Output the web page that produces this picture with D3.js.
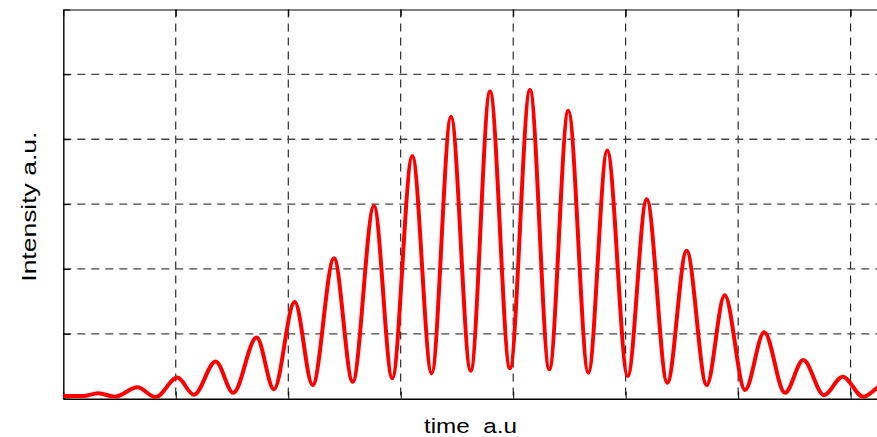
<!DOCTYPE html>
<html>
<head>
<meta charset="utf-8">
<script src="https://cdn.jsdelivr.net/npm/d3@7"></script>
<style>
  html, body { margin: 0; padding: 0; background: #fff; }
  svg { display: block; }
</style>
</head>
<body>
<div id="chart"></div>
<script>
// Interference fringe trace: sample times (a.u.) at the turning points of the signal
const times = [
  0.000, 0.175, 0.311, 0.460, 0.658, 0.821, 1.014, 1.162, 1.355, 1.511,
  1.719, 1.873, 2.057, 2.217, 2.407, 2.573, 2.762, 2.925, 3.103, 3.275,
  3.447, 3.622, 3.794, 3.971, 4.149, 4.321, 4.490, 4.668, 4.836, 5.018,
  5.187, 5.370, 5.542, 5.720, 5.880, 6.061, 6.232, 6.416, 6.579, 6.763,
  6.929, 7.112, 7.290, 7.460
];
// Measured intensity (a.u.) at each sample time
const intensity = [
  0.008, 0.008, 0.017, 0.006, 0.035, 0.005, 0.065, 0.012, 0.115, 0.018,
  0.189, 0.029, 0.299, 0.042, 0.433, 0.052, 0.594, 0.063, 0.748, 0.078,
  0.869, 0.086, 0.947, 0.094, 0.952, 0.091, 0.888, 0.080, 0.765, 0.070,
  0.615, 0.049, 0.456, 0.042, 0.319, 0.027, 0.205, 0.018, 0.119, 0.011,
  0.068, 0.006, 0.042, 0.004
];
// Grid positions (no numeric tick labels are printed on this plot)
const xTicks = [0, 1, 2, 3, 4, 5, 6, 7, 8];
const yTicks = [0, 0.2, 0.4, 0.6, 0.8, 1.0, 1.2];
const xLabel = "time  a.u";
const yLabel = "Intensity a.u.";

const W = 877, H = 437;
const margin = { left: 63.3, top: 9.5 };
const plotW = 899.8, plotH = 389.2;

const svg = d3.select("#chart").append("svg")
  .attr("width", W).attr("height", H);

const x = d3.scaleLinear().domain([0, 8]).range([margin.left, margin.left + plotW]);
const y = d3.scaleLinear().domain([0, 1.2]).range([margin.top + plotH, margin.top]);

svg.append("defs").append("clipPath").attr("id", "plot-clip")
  .append("rect")
  .attr("x", margin.left).attr("y", margin.top - 2)
  .attr("width", plotW).attr("height", plotH + 2);

// Dashed grid
const grid = svg.append("g").attr("stroke", "#000").attr("stroke-width", 1)
  .attr("stroke-dasharray", "8,6").attr("fill", "none");
grid.selectAll("line.v").data(xTicks.filter(d => d > 0 && d < 8)).join("line")
  .attr("class", "v")
  .attr("x1", d => x(d)).attr("x2", d => x(d))
  .attr("y1", margin.top).attr("y2", margin.top + plotH);
grid.selectAll("line.h").data(yTicks.filter(d => d > 0 && d < 1.2)).join("line")
  .attr("class", "h")
  .attr("stroke", "#444")
  .attr("stroke-width", 1.3)
  .attr("x1", margin.left).attr("x2", margin.left + plotW)
  .attr("y1", d => y(d)).attr("y2", d => y(d));

// Frame axes with short inward ticks and no labels
const axisStyle = g => {
  g.selectAll("text").remove();
  g.selectAll("path.domain").attr("stroke", "#000");
  g.selectAll(".tick line").attr("stroke", "#000");
};
svg.append("g")
  .attr("transform", `translate(0,${margin.top + plotH})`)
  .call(d3.axisBottom(x).tickValues(xTicks).tickSize(-7).tickSizeOuter(0).tickFormat(""))
  .call(axisStyle)
  .call(g => g.select("path.domain").attr("stroke-width", 1.6));
svg.append("g")
  .attr("transform", `translate(0,${margin.top})`)
  .call(d3.axisTop(x).tickValues(xTicks).tickSize(-7).tickSizeOuter(0).tickFormat(""))
  .call(axisStyle);
svg.append("g")
  .attr("transform", `translate(${margin.left},0)`)
  .call(d3.axisLeft(y).tickValues(yTicks).tickSize(-7).tickSizeOuter(0).tickFormat(""))
  .call(axisStyle)
  .call(g => g.select("path.domain").attr("stroke-width", 1.4));

// Signal trace
const line = d3.line()
  .x((d, i) => x(times[i]))
  .y(d => y(d))
  .curve(d3.curveMonotoneX);
svg.append("path")
  .datum(intensity)
  .attr("clip-path", "url(#plot-clip)")
  .attr("d", line)
  .attr("fill", "none")
  .attr("stroke", "#ff0000")
  .attr("stroke-width", 4)
  .attr("stroke-linejoin", "round")
  .attr("stroke-linecap", "round");

// Axis titles
svg.append("text")
  .attr("x", 470.5).attr("y", 433.3)
  .attr("text-anchor", "middle")
  .style("white-space", "pre")
  .attr("font-family", "'Liberation Sans', Arial, sans-serif")
  .attr("font-size", 20.5)
  .attr("textLength", 93).attr("lengthAdjust", "spacingAndGlyphs")
  .attr("fill", "#000")
  .text(xLabel);

svg.append("text")
  .attr("transform", "translate(36,206.7) rotate(-90)")
  .attr("text-anchor", "middle")
  .attr("font-family", "'Liberation Sans', Arial, sans-serif")
  .attr("font-size", 20.5)
  .attr("textLength", 150).attr("lengthAdjust", "spacingAndGlyphs")
  .attr("fill", "#000")
  .text(yLabel);
</script>
</body>
</html>
